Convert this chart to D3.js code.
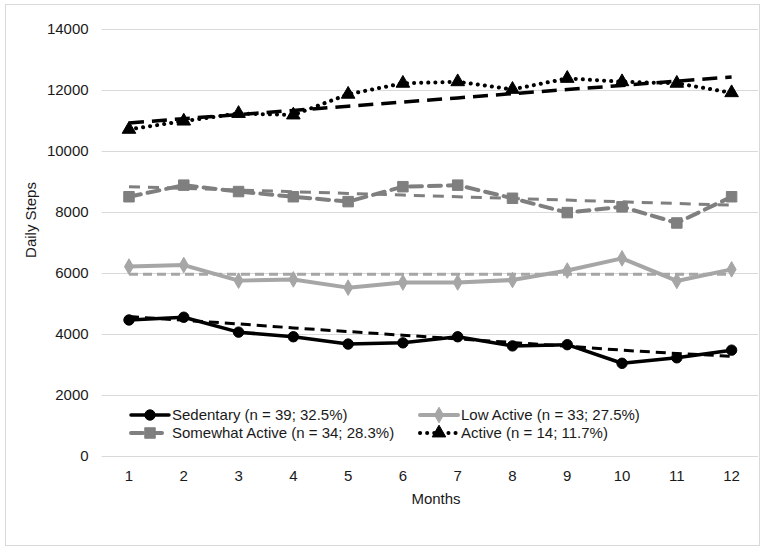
<!DOCTYPE html>
<html>
<head>
<meta charset="utf-8">
<script src="https://cdn.jsdelivr.net/npm/d3@7"></script>
<style>
  html, body { margin: 0; padding: 0; background: #fff; }
  svg { display: block; font-family: "Liberation Sans", Arial, sans-serif; }
</style>
</head>
<body>
<div id="chart"></div>
<script>
// ---- data ----
const months = [1, 2, 3, 4, 5, 6, 7, 8, 9, 10, 11, 12];
const yTicks = [0, 2000, 4000, 6000, 8000, 10000, 12000, 14000];

const sedentary      = [4460, 4550, 4060, 3910, 3670, 3710, 3910, 3610, 3650, 3040, 3220, 3470];
const lowActive      = [6210, 6260, 5750, 5790, 5520, 5690, 5690, 5770, 6080, 6480, 5740, 6120];
const somewhatActive = [8500, 8880, 8670, 8500, 8340, 8830, 8880, 8450, 7980, 8170, 7640, 8500];
const active         = [10710, 10980, 11230, 11180, 11860, 12220, 12270, 12020, 12380, 12270, 12220, 11910];

const sedentaryTrend      = [4570, 4450, 4330, 4200, 4080, 3960, 3840, 3720, 3600, 3470, 3360, 3270];
const lowActiveTrend      = [5960, 5960, 5960, 5960, 5960, 5960, 5960, 5960, 5960, 5960, 5960, 5960];
const somewhatActiveTrend = [8830, 8775, 8720, 8665, 8610, 8555, 8500, 8445, 8390, 8335, 8280, 8225];
const activeTrend         = [10920, 11060, 11195, 11330, 11470, 11605, 11740, 11880, 12015, 12150, 12290, 12425];

const seriesNames = [
  "Sedentary (n = 39; 32.5%)",
  "Low Active (n = 33; 27.5%)",
  "Somewhat Active (n = 34; 28.3%)",
  "Active (n = 14; 11.7%)"
];

// ---- styles ----
const styles = [
  { values: sedentary, trend: sedentaryTrend, color: "#000000", width: 3.5, dash: null, cap: "round",
    marker: d3.symbolCircle, msize: 85, tColor: "#000000", tWidth: 3, tDash: "10,6" },
  { values: lowActive, trend: lowActiveTrend, color: "#a6a6a6", width: 4, dash: null, cap: "round",
    marker: d3.symbolDiamond, msize: 70, tColor: "#a6a6a6", tWidth: 3, tDash: "9,5" },
  { values: somewhatActive, trend: somewhatActiveTrend, color: "#7f7f7f", width: 4, dash: "12,7", cap: "round",
    marker: d3.symbolSquare, msize: 110, tColor: "#7f7f7f", tWidth: 3, tDash: "11,8" },
  { values: active, trend: activeTrend, color: "#000000", width: 4, dash: "0.1,7", cap: "round",
    marker: d3.symbolTriangle, msize: 80, tColor: "#000000", tWidth: 3.5, tDash: "15,8" }
];

const W = 765, H = 550;
const svg = d3.select("#chart").append("svg").attr("width", W).attr("height", H);

// outer border
svg.append("rect").attr("x", 5.5).attr("y", 4.5).attr("width", 754).attr("height", 541)
  .attr("fill", "#fff").attr("stroke", "#d9d9d9").attr("stroke-width", 1);

const plot = { left: 101.6, right: 759, top: 29, bottom: 456 };

const xBand = d3.scaleBand().domain(months).range([plot.left, plot.right]);
const x = m => xBand(m) + xBand.bandwidth() / 2;
const y = d3.scaleLinear().domain([0, 14000]).range([plot.bottom, plot.top]);

// gridlines
svg.append("g").selectAll("line").data(yTicks).join("line")
  .attr("x1", plot.left).attr("x2", plot.right - 1)
  .attr("y1", d => Math.round(y(d)) + 0.5).attr("y2", d => Math.round(y(d)) + 0.5)
  .attr("stroke", "#d9d9d9").attr("stroke-width", 1);

// y axis
const yAxis = svg.append("g").attr("transform", `translate(${plot.left},0)`)
  .call(d3.axisLeft(y).tickValues(yTicks).tickSize(0).tickPadding(13).tickFormat(d3.format("d")));
yAxis.select(".domain").remove();
yAxis.selectAll("text").attr("font-size", 15).attr("fill", "#1a1a1a")
  .attr("font-family", "'Liberation Sans', Arial, sans-serif");

// x axis
const xAxis = svg.append("g").attr("transform", `translate(0,${plot.bottom})`)
  .call(d3.axisBottom(xBand).tickSize(0).tickPadding(14));
xAxis.select(".domain").remove();
xAxis.selectAll("text").attr("font-size", 15).attr("fill", "#1a1a1a")
  .attr("font-family", "'Liberation Sans', Arial, sans-serif");

// axis titles
svg.append("text").attr("x", 436).attr("y", 504).attr("text-anchor", "middle")
  .attr("font-size", 15).attr("fill", "#1a1a1a").text("Months");
svg.append("text").attr("transform", `translate(36,220) rotate(-90)`)
  .attr("text-anchor", "middle").attr("font-size", 15).attr("fill", "#1a1a1a").text("Daily Steps");

const line = d3.line().x((d, i) => x(months[i])).y(d => y(d));

// series lines
styles.forEach(s => {
  svg.append("path").datum(s.values).attr("d", line)
    .attr("fill", "none").attr("stroke", s.color).attr("stroke-width", s.width)
    .attr("stroke-linecap", s.cap).attr("stroke-linejoin", "round")
    .attr("stroke-dasharray", s.dash);
});
// markers
styles.forEach(s => {
  svg.append("g").selectAll("path").data(s.values).join("path")
    .attr("transform", (d, i) => `translate(${x(months[i])},${y(d)})`)
    .attr("d", d3.symbol().type(s.marker).size(s.msize))
    .attr("fill", s.color).attr("stroke", s.color).attr("stroke-width", 1);
});
// trend lines
styles.forEach(s => {
  svg.append("path").datum(s.trend).attr("d", line)
    .attr("fill", "none").attr("stroke", s.tColor).attr("stroke-width", s.tWidth)
    .attr("stroke-dasharray", s.tDash).attr("stroke-linecap", "butt");
});

// legend
const legendPos = [
  { x: 131, y: 415 }, { x: 420, y: 415 },
  { x: 131, y: 433 }, { x: 420, y: 433 }
];
styles.forEach((s, i) => {
  const p = legendPos[i];
  const g = svg.append("g").attr("transform", `translate(${p.x},${p.y})`);
  g.append("line").attr("x1", 0).attr("x2", 38).attr("y1", 0).attr("y2", 0)
    .attr("stroke", s.color).attr("stroke-width", s.width)
    .attr("stroke-linecap", s.cap).attr("stroke-dasharray", s.dash);
  g.append("path").attr("transform", "translate(19,0)")
    .attr("d", d3.symbol().type(s.marker).size(s.msize))
    .attr("fill", s.color).attr("stroke", s.color);
  g.append("text").attr("x", 41).attr("y", 0).attr("dy", "0.35em")
    .attr("font-size", 15).attr("fill", "#1a1a1a").text(seriesNames[i]);
});
</script>
</body>
</html>
